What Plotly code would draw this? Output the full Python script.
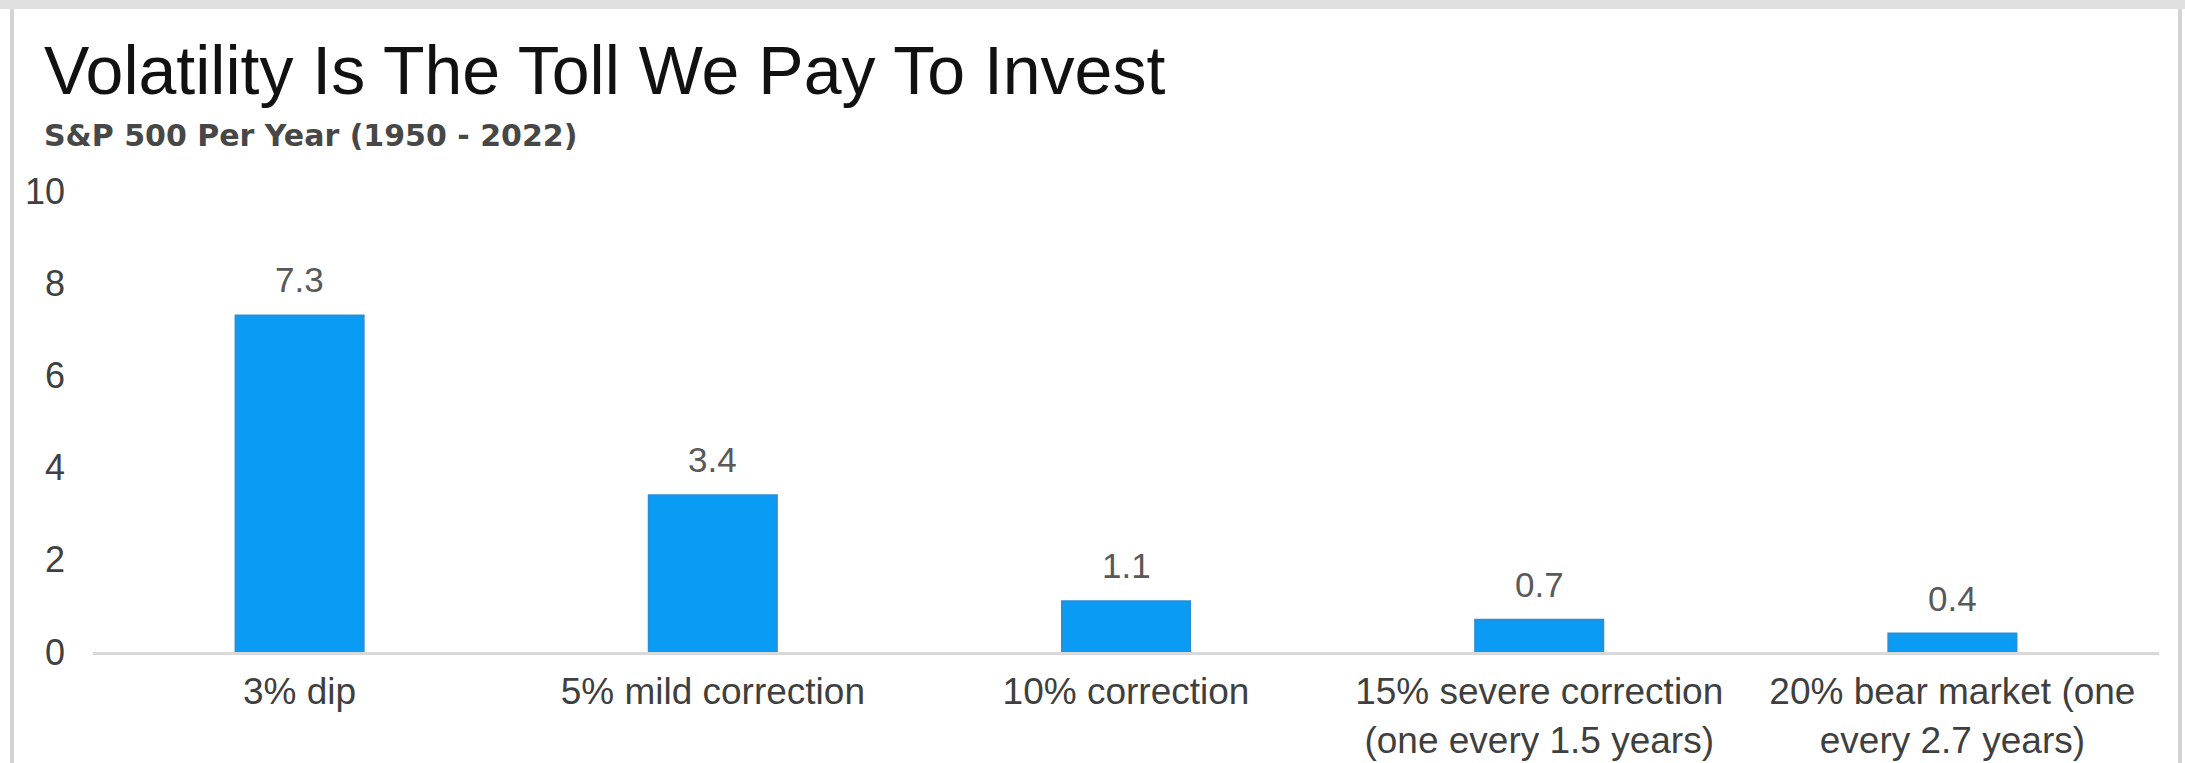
import plotly.graph_objects as go

# S&P 500 average number of pullbacks per year, 1950-2022
categories = [
    "3% dip",
    "5% mild correction",
    "10% correction",
    "15% severe correction<br>(one every 1.5 years)",
    "20% bear market (one<br>every 2.7 years)",
]
events_per_year = [7.3, 3.4, 1.1, 0.7, 0.4]
y_ticks = [0, 2, 4, 6, 8, 10]

title_text = "Volatility Is The Toll We Pay To Invest"
subtitle_text = "S&P 500 Per Year (1950 - 2022)"

# canvas and plot-area geometry (pixels)
W, H = 2185, 763
M_L, M_R, M_T, M_B = 93, 26, 191, 111
PW, PH = W - M_L - M_R, H - M_T - M_B


def px_x(px):
    return (px - M_L) / PW


def px_y(py):
    return (H - M_B - py) / PH


AXIS_FONT = "Liberation Sans, Arial, sans-serif"

fig = go.Figure()
fig.add_trace(
    go.Bar(
        x=categories,
        y=events_per_year,
        marker=dict(color="#0A9BF5", line=dict(color="#2B8FD6", width=2)),
        hoverinfo="x+y",
    )
)

# value labels above each bar
for cat, val in zip(categories, events_per_year):
    fig.add_annotation(
        x=cat, y=val, xref="x", yref="y",
        text=f"{val:.1f}", showarrow=False,
        yanchor="bottom", yshift=14,
        font=dict(family=AXIS_FONT, size=35, color="#595959"),
    )

# heading and sub-heading
fig.add_annotation(
    x=px_x(42), y=px_y(70), xref="paper", yref="paper",
    xanchor="left", yanchor="middle", showarrow=False,
    text=title_text,
    font=dict(family=AXIS_FONT, size=68, color="#111111"),
)
fig.add_annotation(
    x=px_x(42), y=px_y(136), xref="paper", yref="paper",
    xanchor="left", yanchor="middle", showarrow=False,
    text=subtitle_text,
    font=dict(family="DejaVu Sans, sans-serif", size=30, color="#474747",
              weight="bold"),
)

# thin frame around the card
frame_color = "#d4d4d4"
fig.add_shape(type="rect", xref="paper", yref="paper",
              x0=px_x(0), x1=px_x(W), y0=px_y(0), y1=px_y(9),
              fillcolor="#e0e0e0", line=dict(width=0), layer="below")
fig.add_shape(type="rect", xref="paper", yref="paper",
              x0=px_x(10), x1=px_x(14), y0=px_y(9), y1=px_y(H),
              fillcolor=frame_color, line=dict(width=0), layer="below")
fig.add_shape(type="rect", xref="paper", yref="paper",
              x0=px_x(2178), x1=px_x(2182), y0=px_y(9), y1=px_y(H),
              fillcolor=frame_color, line=dict(width=0), layer="below")

fig.update_layout(
    width=W, height=H,
    margin=dict(l=M_L, r=M_R, t=M_T, b=M_B, pad=0),
    paper_bgcolor="white", plot_bgcolor="white",
    bargap=0.69,
    showlegend=False,
    xaxis=dict(
        automargin=False,
        showline=True, linecolor="#d9d9d9", linewidth=3,
        showgrid=False, zeroline=False, ticks="",
        ticklabelstandoff=5,
        tickfont=dict(family=AXIS_FONT, size=37, color="#3f3f3f"),
    ),
    yaxis=dict(
        automargin=False,
        range=[0, 10], tickvals=y_ticks,
        showline=False, showgrid=False, zeroline=False, ticks="",
        ticklabelstandoff=27,
        tickfont=dict(family=AXIS_FONT, size=36, color="#404040"),
    ),
)

fig.write_html("out.html")
